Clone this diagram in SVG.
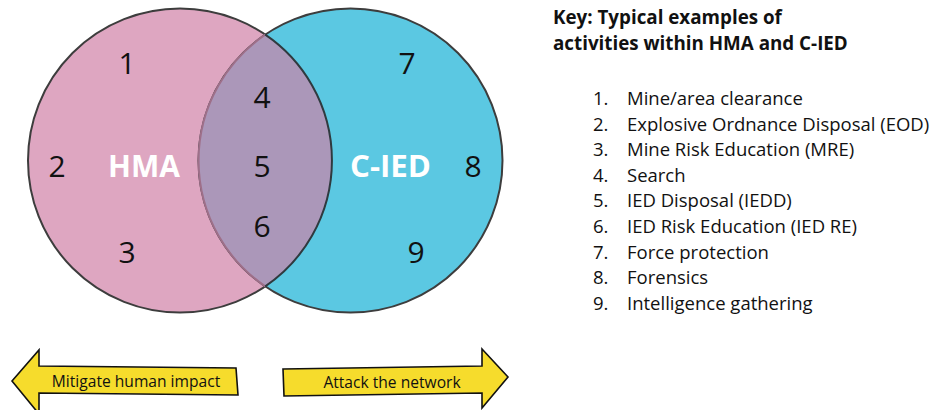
<svg xmlns="http://www.w3.org/2000/svg" width="936" height="410" viewBox="0 0 936 410">
<style>
.num{font-family:"Open Sans","Noto Sans","Liberation Sans",sans-serif;font-size:30px;fill:#111;text-anchor:middle}
.lbl{font-family:"Open Sans","Noto Sans","Liberation Sans",sans-serif;font-size:30px;font-weight:bold;fill:#fff;text-anchor:middle}
.key{font-family:"Open Sans","Noto Sans","Liberation Sans",sans-serif;font-size:18.5px;fill:#111}
.title{font-family:"Open Sans","Noto Sans","Liberation Sans",sans-serif;font-size:18.8px;font-weight:bold;fill:#111}
.arr{fill:#F6DC2C;stroke:#111;stroke-width:1.6;stroke-linejoin:miter}
.atxt{font-family:"Open Sans","Noto Sans","Liberation Sans",sans-serif;font-size:15.6px;fill:#111;text-anchor:middle}
</style>
<rect width="936" height="410" fill="#fff"/>
<g id="venn">
<g id="hma">
<circle cx="180" cy="160.5" r="152" fill="#DEA6C1" stroke="#3d3d3d" stroke-width="2"/>
</g>
<g id="cied">
<circle cx="350.5" cy="160.5" r="152" fill="#5BC8E2" stroke="#3d3d3d" stroke-width="2"/>
</g>
<g id="overlap">
<path d="M265.25,34.7 A152,152 0 0,1 265.25,286.3 A152,152 0 0,1 265.25,34.7 Z" fill="#AB97B9"/>
<path d="M265.25,286.3 A152,152 0 0,1 265.25,34.7" fill="none" stroke="#9E6F89" stroke-width="2"/>
<path d="M265.25,34.7 A152,152 0 0,1 265.25,286.3" fill="none" stroke="#2f3a3f" stroke-width="2"/>
</g>
<text class="lbl" x="144" y="177">HMA</text>
<text class="lbl" x="390.5" y="177" textLength="81" lengthAdjust="spacingAndGlyphs">C-IED</text>
<text class="num" x="127" y="74">1</text>
<text class="num" x="57" y="177">2</text>
<text class="num" x="127" y="263">3</text>
<text class="num" x="262" y="108">4</text>
<text class="num" x="262" y="177">5</text>
<text class="num" x="262" y="237">6</text>
<text class="num" x="407" y="74">7</text>
<text class="num" x="473" y="177">8</text>
<text class="num" x="416" y="263">9</text>
</g>
<g id="key">
<text class="title" x="553" y="24">Key: Typical examples of</text>
<text class="title" x="553" y="50">activities within HMA and C-IED</text>
<g class="key">
<text x="593" y="105">1.</text><text x="627" y="105">Mine/area clearance</text>
<text x="593" y="130.6">2.</text><text x="627" y="130.6">Explosive Ordnance Disposal (EOD)</text>
<text x="593" y="156.2">3.</text><text x="627" y="156.2">Mine Risk Education (MRE)</text>
<text x="593" y="181.8">4.</text><text x="627" y="181.8">Search</text>
<text x="593" y="207.4">5.</text><text x="627" y="207.4">IED Disposal (IEDD)</text>
<text x="593" y="233">6.</text><text x="627" y="233">IED Risk Education (IED RE)</text>
<text x="593" y="258.6">7.</text><text x="627" y="258.6">Force protection</text>
<text x="593" y="284.2">8.</text><text x="627" y="284.2">Forensics</text>
<text x="593" y="309.8">9.</text><text x="627" y="309.8">Intelligence gathering</text>
</g>
</g>
<g id="arrow-left">
<path class="arr" d="M12,381 L39,350 L39,366 L236,368 L238,395 L39,393 L39,414 Z"/>
<text class="atxt" x="136" y="387">Mitigate human impact</text>
</g>
<g id="arrow-right">
<path class="arr" d="M283,369 L482,366 L482,349 L508,377 L482,408 L482,393 L284,396 Z"/>
<text class="atxt" x="392" y="388">Attack the network</text>
</g>
</svg>
